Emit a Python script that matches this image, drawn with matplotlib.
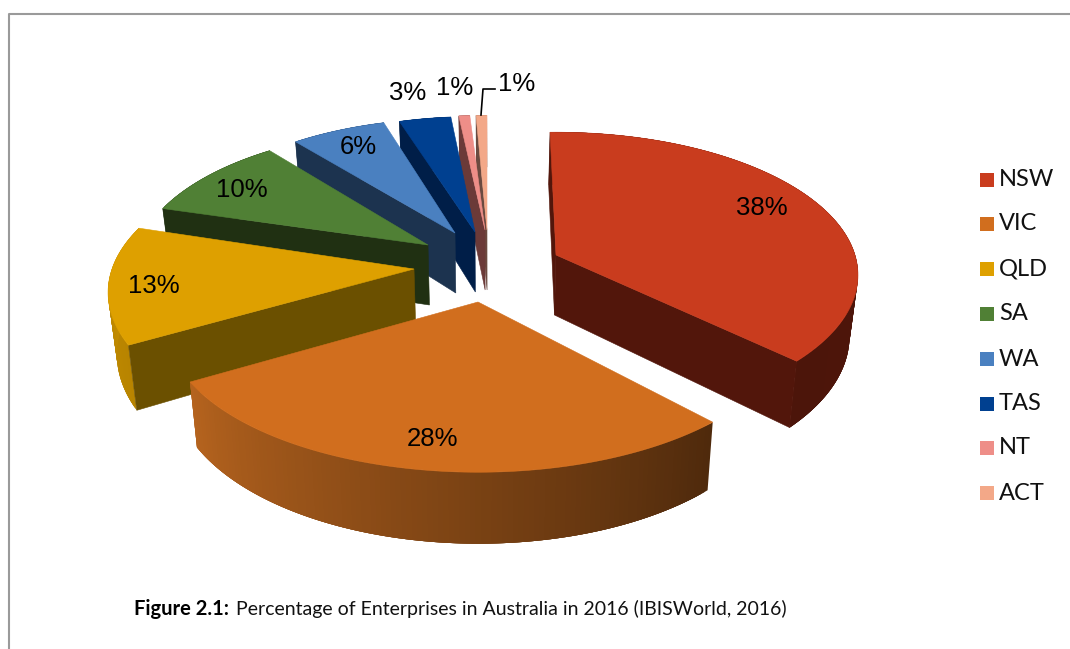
import numpy as np
import matplotlib
matplotlib.use('Agg')
import matplotlib.pyplot as plt
from matplotlib.colors import to_rgb
from matplotlib.patches import Polygon, Rectangle

# Data
states = ['NSW', 'VIC', 'QLD', 'SA', 'WA', 'TAS', 'NT', 'ACT']
percent = [38, 28, 13, 10, 6, 3, 1, 1]

# Colours per slice
top_colors = ['#C93C1E', '#D16E1E', '#DEA000', '#508035', '#4A80C0', '#004090', '#EE8E88', '#F3A888']
cut_colors = ['#52160B', '#5A300E', '#6B5000', '#203012', '#1C334F', '#001E48', '#6B3A38', '#6B4A40']
rim_start = ['#52160B', '#4F2A0C', '#B88400', '#203012', '#1C334F', '#001E48', '#6B3A38', '#6B4A40']
rim_end = ['#4C150A', '#B5631E', '#C89000', '#203012', '#1C334F', '#001E48', '#6B3A38', '#6B4A40']

# Position of each slice tip and label, in pixels of the page
tips = [(556, 255), (478, 302), (414, 269), (428, 245), (455, 233), (475, 232), (485, 230), (487, 230)]
label_pos = [(762, 208), (433, 439), (154, 286), (242, 190), (358, 147), (408, 93), (455, 88), (517, 84)]
legend_y = [180, 224, 269, 314, 359, 404, 448, 493]

# Look of the tilted pie, slice by slice (perspective makes each one a bit different)
rad_x = [299, 308, 302, 289, 281, 282, 281, 281]
rad_y = [140, 143, 143, 135, 133, 134, 133, 133]
tilt = [0.14, 0.16, 0.16, 0.16, 0.16, 0.16, 0.16, 0.16]
start_nudge = [-1.3, 1.0, 3.0, 2.0, 0.0, 0.0, 1.0, 1.0]
end_nudge = [-3.5, 1.5, 3.0, 1.5, 1.0, 1.5, 0.0, 0.0]
# which cut faces show: 0 is the start edge, -1 the end edge
cuts = [[0, -1], [], [0], [0], [0], [0], [0], [0]]
DEPTH, VANISH_X, LEAN = 60, 490, 0.023


def top_point(i, theta):
    u, v = np.sin(theta), np.cos(theta)
    w = 1 / (1 + tilt[i] * v)
    return np.array([tips[i][0] + rad_x[i] * u * w, tips[i][1] - rad_y[i] * v * w]), w


def drop(p, w):
    return np.array([p[0] + LEAN * (VANISH_X - p[0]), p[1] + DEPTH * w])


def mix(c1, c2, f):
    a, b = np.array(to_rgb(c1)), np.array(to_rgb(c2))
    return tuple(a + (b - a) * f)


fig = plt.figure(figsize=(10.7, 6.49), dpi=100)
ax = fig.add_axes([0, 0, 1, 1])
ax.set_xlim(0, 1070)
ax.set_ylim(649, 0)
ax.axis('off')

# Page frame
ax.plot([9, 9, 1070], [649, 14, 14], color='#9A9A9A', lw=1.5)

edges = np.cumsum([0] + percent) / 100 * 360

# Back slices first, VIC last
for i in [7, 6, 5, 4, 3, 2, 0, 1]:
    tip = tips[i]
    thetas = np.radians(np.linspace(edges[i] + start_nudge[i], edges[i + 1] + end_nudge[i], 120))
    pts = [top_point(i, t) for t in thetas]
    arc = np.array([p for p, w in pts])
    low = np.array([drop(p, w) for p, w in pts])
    tip_low = drop(np.array(tip, dtype=float), 1.0)

    # Outer wall, in strips that overlap so no seams show in the shading
    n = len(arc)
    for j in range(n - 1):
        e = min(j + 4, n - 1)
        strip = np.vstack([arc[j:e + 1], low[j:e + 1][::-1]])
        c = mix(rim_start[i], rim_end[i], j / (n - 2))
        ax.add_patch(Polygon(strip, closed=True, facecolor=c, edgecolor='none'))

    # Cut faces
    for k in cuts[i]:
        face = [tip, arc[k], low[k], tip_low]
        ax.add_patch(Polygon(face, closed=True, facecolor=cut_colors[i], edgecolor=cut_colors[i], lw=0.4))

    # Top face
    ax.add_patch(Polygon(np.vstack([[tip], arc]), closed=True, facecolor=top_colors[i], edgecolor=top_colors[i], lw=0.4))

# Percent labels
for value, (x, y) in zip(percent, label_pos):
    ax.text(x, y, f'{value}%', fontsize=18.5, family='Liberation Sans', color='black', ha='center', va='center')

# Leader line of the last label
ax.plot([481, 483, 495], [115, 89, 89], color='black', lw=1.2)

# Legend
for name, color, y in zip(states, top_colors, legend_y):
    ax.add_patch(Rectangle((980, y - 7), 14, 14, facecolor=color, edgecolor='none'))
    ax.text(999, y, name, fontsize=17, family='Lato', color='#111111', ha='left', va='center')

# Caption
ax.text(134, 609, 'Figure 2.1:', fontsize=14.5, family='Lato', fontweight='bold', color='black', ha='left', va='center')
ax.text(236, 609, 'Percentage of Enterprises in Australia in 2016 (IBISWorld, 2016)', fontsize=14, family='Lato', color='#111111', ha='left', va='center')

fig.savefig('out.png', dpi=100)
